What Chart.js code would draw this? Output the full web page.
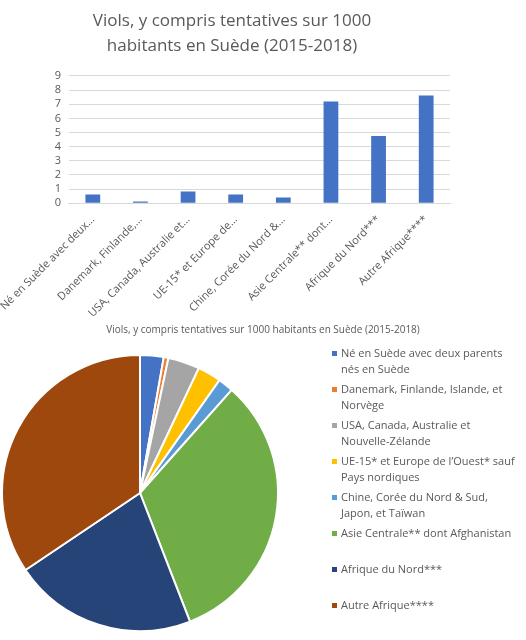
<!DOCTYPE html>
<html lang="fr">
<head>
<meta charset="utf-8">
<title>Viols en Suède</title>
<script src="https://cdn.jsdelivr.net/npm/chart.js@4.4.1/dist/chart.umd.min.js"></script>
<style>
  body { margin: 0; background: #fff; }
  .box { position: absolute; left: 0; }
</style>
</head>
<body>
<div class="box" style="top:0;width:464px;height:322px"><canvas id="barChart"></canvas></div>
<div class="box" style="top:320px;width:526px;height:320px"><canvas id="pieChart"></canvas></div>
<script>
// Données
const categories = [
    'Né en Suède avec deux parents nés en Suède',
    'Danemark, Finlande, Islande, et Norvège',
    'USA, Canada, Australie et Nouvelle-Zélande',
    'UE-15* et Europe de l\u2019Ouest* sauf Pays nordiques',
    'Chine, Corée du Nord & Sud, Japon, et Taïwan',
    'Asie Centrale** dont Afghanistan',
    'Afrique du Nord***',
    'Autre Afrique****'
];
const barTickLabels = [
    'Né en Suède avec deux…',
    'Danemark, Finlande,…',
    'USA, Canada, Australie et…',
    'UE-15* et Europe de…',
    'Chine, Corée du Nord &…',
    'Asie Centrale** dont…',
    'Afrique du Nord***',
    'Autre Afrique****'
];
const rates = [0.61, 0.12, 0.82, 0.61, 0.40, 7.19, 4.75, 7.61];
const titleLines = ['Viols, y compris tentatives sur 1000', 'habitants en Suède (2015-2018)'];
const pieTitle = 'Viols, y compris tentatives sur 1000 habitants en Suède (2015-2018)';
const pieColors = ['#4472C4', '#ED7D31', '#A5A5A5', '#FFC000', '#5B9BD5', '#70AD47', '#264478', '#9E480E'];

const FONT = "'Open Sans', 'Noto Sans', sans-serif";
const GREY = '#595959';

Chart.defaults.font.family = FONT;
Chart.defaults.color = GREY;

// Graphique en barres
new Chart(document.getElementById('barChart'), {
    type: 'bar',
    data: {
        labels: barTickLabels,
        datasets: [{
            data: rates,
            backgroundColor: '#4472C4',
            categoryPercentage: 0.62,
            barPercentage: 0.5
        }]
    },
    options: {
        responsive: true,
        maintainAspectRatio: false,
        animation: false,
        layout: { padding: 0 },
        plugins: {
            legend: { display: false },
            tooltip: { enabled: false },
            title: {
                display: true,
                text: titleLines,
                color: GREY,
                font: { size: 17, weight: 'normal', lineHeight: 1.47 },
                padding: { top: 9, bottom: 17 }
            }
        },
        scales: {
            y: {
                min: 0,
                max: 9,
                ticks: { stepSize: 1, autoSkip: false, font: { size: 11 }, padding: 8 },
                grid: { color: '#d9d9d9', drawTicks: false },
                border: { display: false }
            },
            x: {
                ticks: { font: { size: 11 }, minRotation: 45, maxRotation: 45, padding: 2 },
                grid: { display: false },
                border: { color: '#d9d9d9' },
                // laisse un peu d'air à droite de la zone de tracé
                afterFit: s => { s.paddingRight = Math.max(s.paddingRight, 14); }
            }
        }
    }
});

// Titre et légende du camembert dessinés à côté du disque
const sideLegend = {
    id: 'sideLegend',
    afterDraw(chart) {
        const ctx = chart.ctx;
        ctx.save();
        ctx.fillStyle = GREY;
        ctx.textBaseline = 'middle';
        ctx.textAlign = 'center';
        ctx.font = '10px ' + FONT;
        ctx.fillText(pieTitle, 263, 10);

        ctx.textAlign = 'left';
        ctx.font = '11px ' + FONT;
        const maxW = 177;
        categories.forEach((label, i) => {
            const y0 = 34 + i * 36;
            // découpage en lignes
            const words = label.split(' ');
            const lines = [];
            let cur = '';
            words.forEach(w => {
                const test = cur ? cur + ' ' + w : w;
                if (ctx.measureText(test).width > maxW && cur) {
                    lines.push(cur);
                    cur = w;
                } else {
                    cur = test;
                }
            });
            lines.push(cur);
            ctx.fillStyle = pieColors[i];
            ctx.fillRect(332, y0 - 3, 5, 5);
            ctx.fillStyle = GREY;
            lines.forEach((ln, k) => ctx.fillText(ln, 341, y0 + k * 16));
        });
        ctx.restore();
    }
};

new Chart(document.getElementById('pieChart'), {
    type: 'pie',
    data: {
        labels: categories,
        datasets: [{
            data: rates,
            backgroundColor: pieColors,
            borderColor: '#ffffff',
            borderWidth: 2
        }]
    },
    options: {
        responsive: true,
        maintainAspectRatio: false,
        animation: false,
        layout: { padding: { top: 34, left: 1, right: 247, bottom: 8 } },
        plugins: {
            legend: { display: false },
            tooltip: { enabled: false },
            title: { display: false }
        }
    },
    plugins: [sideLegend]
});
</script>
</body>
</html>
